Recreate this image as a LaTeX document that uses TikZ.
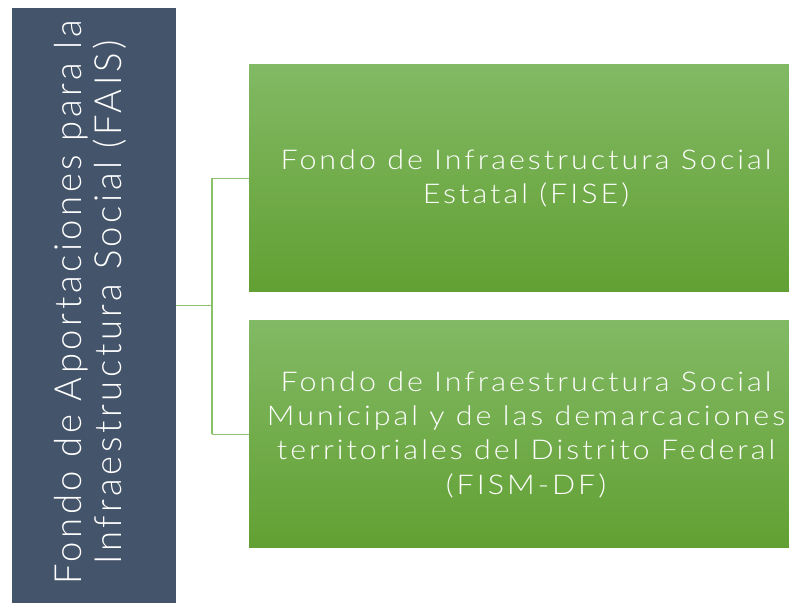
\documentclass[tikz,border=0pt]{standalone}
\usepackage{fontspec}
\setmainfont{Lato Light}[LetterSpace=11,FakeStretch=1.12]
\usetikzlibrary{positioning}
\definecolor{slate}{HTML}{44546A}
\definecolor{gtop}{HTML}{82B964}
\definecolor{gbot}{HTML}{62A033}
\definecolor{conn}{HTML}{8CC16C}
\tikzset{
  greenbox/.style={rectangle, draw=none, top color=gtop, bottom color=gbot,
    minimum width=554pt, minimum height=227pt, text=white, align=center,
    font=\fontsize{27.2}{34.3}\selectfont, inner sep=0pt},
  leftbox/.style={rectangle, fill=slate, draw=white, line width=0.6pt,
    minimum width=165pt, minimum height=600pt, inner sep=0pt},
  lefttext/.style={rotate=90, text=white, inner sep=0pt},
  connector/.style={draw=conn, line width=1.5pt}
}
\begin{document}
\begin{tikzpicture}[x=1pt,y=1pt]
\useasboundingbox (0,0) rectangle (789,602);
\node[leftbox] (fais) at (93.5,295) {};
\node[lefttext] (faistext) at (93.5,299.5)
  {\scalebox{1}[1.15]{\fontsize{32.5}{35}\selectfont\begin{tabular}{@{}c@{}}Fondo de Aportaciones para la\\Infraestructura Social (FAIS)\end{tabular}}};
\node[greenbox] (fise) at (526,423.5) {Fondo de Infraestructura Social\\Estatal (FISE)};
\node[greenbox] (fism) at (526,167.5) {Fondo de Infraestructura Social\\Municipal y de las demarcaciones\\territoriales del Distrito Federal\\(FISM-DF)};
\coordinate (branch) at (212,296.5);
\draw[connector] (fais.east |- branch) -- (branch);
\draw[connector] (branch |- fise.west) -- (branch |- fism.west);
\draw[connector] (branch |- fise.west) -- (fise.west);
\draw[connector] (branch |- fism.west) -- (fism.west);
\end{tikzpicture}
\end{document}
